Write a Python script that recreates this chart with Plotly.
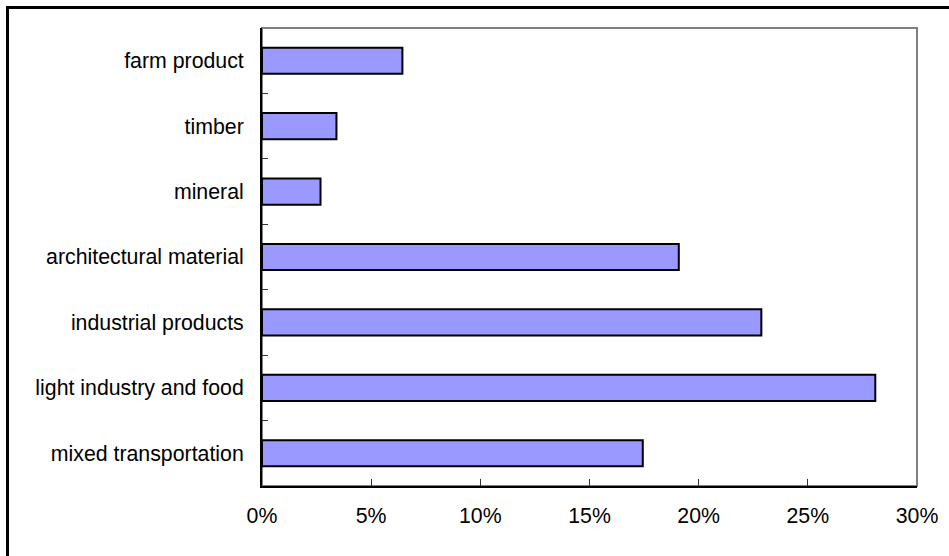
import plotly.graph_objects as go

# Freight categories (top to bottom) and their share of total volume, in percent
categories = [
    "farm product",
    "timber",
    "mineral",
    "architectural material",
    "industrial products",
    "light industry and food",
    "mixed transportation",
]
shares = [6.43, 3.41, 2.68, 19.09, 22.87, 28.09, 17.44]
x_ticks = [0, 5, 10, 15, 20, 25, 30]

W, H = 949, 556
ML, MR, MT, MB = 262, 32, 28, 70
PW, PH = W - ML - MR, H - MT - MB

font = dict(family="Liberation Sans, Arial, sans-serif", size=21.3, color="#000000")

fig = go.Figure(
    go.Bar(
        x=shares,
        y=categories,
        orientation="h",
        width=0.4,
        marker=dict(color="#9999FF", line=dict(color="#000000", width=2)),
        hoverinfo="x+y",
    )
)

fig.update_layout(
    width=W,
    height=H,
    margin=dict(l=ML, r=MR, t=MT, b=MB, pad=0),
    paper_bgcolor="#FFFFFF",
    plot_bgcolor="#FFFFFF",
    font=font,
    showlegend=False,
    xaxis=dict(
        range=[0, 30],
        tickvals=x_ticks,
        ticktext=[f"{v}%" for v in x_ticks],
        ticks="inside",
        ticklen=7,
        tickwidth=1,
        tickcolor="#333333",
        showgrid=False,
        zeroline=False,
        showline=True,
        linecolor="#000000",
        linewidth=2,
        ticklabelstandoff=9,
        tickfont=font,
    ),
    yaxis=dict(
        type="category",
        categoryorder="array",
        categoryarray=categories[::-1],
        range=[-0.5, len(categories) - 0.5],
        ticks="inside",
        tickson="boundaries",
        ticklen=6,
        tickwidth=1,
        tickcolor="#333333",
        showgrid=False,
        zeroline=False,
        showline=True,
        linecolor="#000000",
        linewidth=2,
        ticklabelstandoff=12,
        tickfont=font,
    ),
    shapes=[
        # gray frame around the plotting area (top and right edges)
        dict(type="rect", xref="paper", yref="paper", x0=0, x1=1, y0=0, y1=1,
             line=dict(color="#808080", width=2), layer="below"),
        # outer chart border: left and top edges
        dict(type="line", xref="paper", yref="paper",
             x0=(7.5 - ML) / PW, x1=(W + 10 - ML) / PW,
             y0=1 + (MT - 7.5) / PH, y1=1 + (MT - 7.5) / PH,
             line=dict(color="#000000", width=3)),
        dict(type="line", xref="paper", yref="paper",
             x0=(7.5 - ML) / PW, x1=(7.5 - ML) / PW,
             y0=1 + (MT - 6) / PH, y1=-(MB + 10) / PH,
             line=dict(color="#000000", width=3)),
    ],
)

fig.write_html("out.html")
